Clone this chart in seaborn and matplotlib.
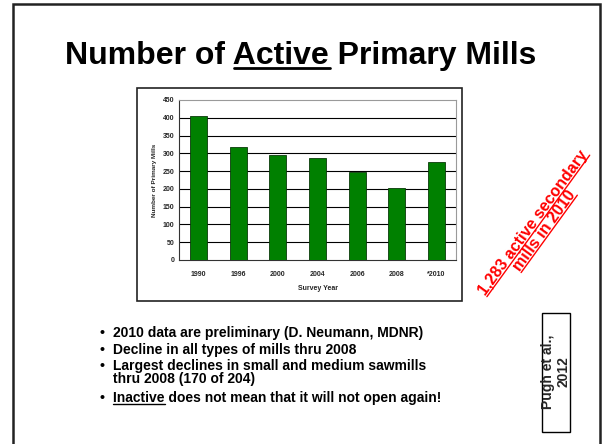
import numpy as np
import pandas as pd
import matplotlib
matplotlib.use("Agg")
import matplotlib.pyplot as plt
import seaborn as sns
from matplotlib.patches import Rectangle
from matplotlib.lines import Line2D

years = ["1990", "1996", "2000", "2004", "2006", "2008", "*2010"]
mills = [405, 318, 295, 288, 248, 202, 275]
yticks = [0, 50, 100, 150, 200, 250, 300, 350, 400, 450]

title_text = "Number of Active Primary Mills"
bullet_lines = [
    ("2010 data are preliminary (D. Neumann, MDNR)", True),
    ("Decline in all types of mills thru 2008", True),
    ("Largest declines in small and medium sawmills", True),
    ("thru 2008 (170 of 204)", False),
    ("Inactive does not mean that it will not open again!", True),
]
side_note = ["1,283 active secondary", "mills in 2010"]
cite = ["Pugh et al.,", "2012"]

sns.set_style("white")
plt.rcParams['font.family'] = ['Liberation Sans', 'DejaVu Sans']

W, H = 602, 444
fig = plt.figure(figsize=(W / 100, H / 100), dpi=100)

def fx(x):
    return x / W

def fy(y):
    return 1 - y / H

# slide border
fig.patches.append(Rectangle((fx(13), fy(446)), fx(600) - fx(13), fy(4) - fy(446),
                             transform=fig.transFigure, fill=False,
                             edgecolor='#222222', lw=1.8, zorder=0))
# chart frame
fig.patches.append(Rectangle((fx(137), fy(301)), fx(462) - fx(137), fy(88) - fy(301),
                             transform=fig.transFigure, fill=False,
                             edgecolor='#222222', lw=1.2, zorder=0))

ax = fig.add_axes([fx(179), fy(260), fx(456) - fx(179), fy(100) - fy(260)])
df = pd.DataFrame({"year": years, "mills": mills})
sns.barplot(data=df, x="year", y="mills", color="#008000", saturation=1,
            width=0.43, edgecolor="#0a3a0a", linewidth=0.6, ax=ax, zorder=3)
ax.set_ylim(0, 450)
ax.set_xlim(-0.5, len(years) - 0.5)
ax.set_yticks(yticks)
ax.set_yticklabels([str(t) for t in yticks], fontsize=5, fontweight='bold')
ax.set_xticks(range(len(years)))
ax.set_xticklabels(years, fontsize=5, fontweight='bold')
ax.set_xticks(np.arange(-0.5, len(years), 1.0), minor=True)
ax.tick_params(axis='x', which='major', length=0, pad=8)
ax.tick_params(axis='x', which='minor', length=3, width=0.6, direction='out', color='#333333')
ax.tick_params(axis='y', length=3, width=0.6, direction='inout', color='#333333', pad=2)
for t in yticks[1:-1]:
    ax.axhline(t, color='black', lw=0.8, zorder=1)
ax.set_xlabel("Survey Year", fontsize=5, fontweight='bold', labelpad=5)
ax.set_ylabel("Number of Primary Mills", fontsize=4.6, fontweight='bold', labelpad=4)
for s in ['top', 'right']:
    ax.spines[s].set_color('#9a9a9a')
    ax.spines[s].set_linewidth(0.8)
for s in ['left', 'bottom']:
    ax.spines[s].set_color('#333333')
    ax.spines[s].set_linewidth(0.8)

renderer = fig.canvas.get_renderer()

def text_width_px(s, **kw):
    t = fig.text(0, 0, s, **kw)
    w = t.get_window_extent(renderer=renderer).width
    t.remove()
    return w

# title
tkw = dict(fontsize=23, fontweight='bold', color='black')
title_y = 64
fig.text(0.5, fy(title_y), title_text, ha='center', va='baseline', **tkw)
full_w = text_width_px(title_text, **tkw)
pre_w = text_width_px("Number of ", **tkw)
act_w = text_width_px("Active", **tkw)
x0 = W / 2 - full_w / 2 + pre_w
fig.lines.append(Line2D([fx(x0), fx(x0 + act_w)], [fy(title_y + 4), fy(title_y + 4)],
                        transform=fig.transFigure, color='black', lw=2.0))

# bullets
bkw = dict(fontsize=10, fontweight='bold', color='black')
bullet_y = [337, 354, 370, 383, 402]
for yb, (txt, has_bullet) in zip(bullet_y, bullet_lines):
    if has_bullet:
        fig.text(fx(99), fy(yb), "\u2022", ha='left', va='baseline', **bkw)
    fig.text(fx(113), fy(yb), txt, ha='left', va='baseline', **bkw)
iw = text_width_px("Inactive", **bkw)
fig.lines.append(Line2D([fx(113), fx(113 + iw)], [fy(bullet_y[4] + 2), fy(bullet_y[4] + 2)],
                        transform=fig.transFigure, color='black', lw=1.0))

# citation box
fig.patches.append(Rectangle((fx(542), fy(432)), fx(570) - fx(542), fy(313) - fy(432),
                             transform=fig.transFigure, fill=False,
                             edgecolor='black', lw=1.0))
fig.text(fx(552), fy(372), cite[0], ha='center', va='baseline', rotation=90,
         rotation_mode='anchor', fontsize=10, fontweight='bold')
fig.text(fx(567), fy(372), cite[1], ha='center', va='baseline', rotation=90,
         rotation_mode='anchor', fontsize=10, fontweight='bold')

# rotated red note
ang = 54
rad = np.deg2rad(ang)
d = np.array([np.cos(rad), -np.sin(rad)])   # along text, pixel coords (y down)
p = np.array([np.sin(rad), np.cos(rad)])    # down perpendicular
rkw = dict(fontsize=11.5, fontweight='bold', color='red')
c1 = np.array([537.0, 225.0])
centers = [c1, c1 + 13.5 * p]
for c, txt in zip(centers, side_note):
    fig.text(fx(c[0]), fy(c[1]), txt, ha='center', va='baseline', rotation=ang,
             rotation_mode='anchor', **rkw)
    w = text_width_px(txt, **rkw)
    a = c - d * w / 2 + p * 1.6
    b = c + d * w / 2 + p * 1.6
    fig.lines.append(Line2D([fx(a[0]), fx(b[0])], [fy(a[1]), fy(b[1])],
                            transform=fig.transFigure, color='red', lw=1.0))

fig.savefig("out.png", dpi=100)
